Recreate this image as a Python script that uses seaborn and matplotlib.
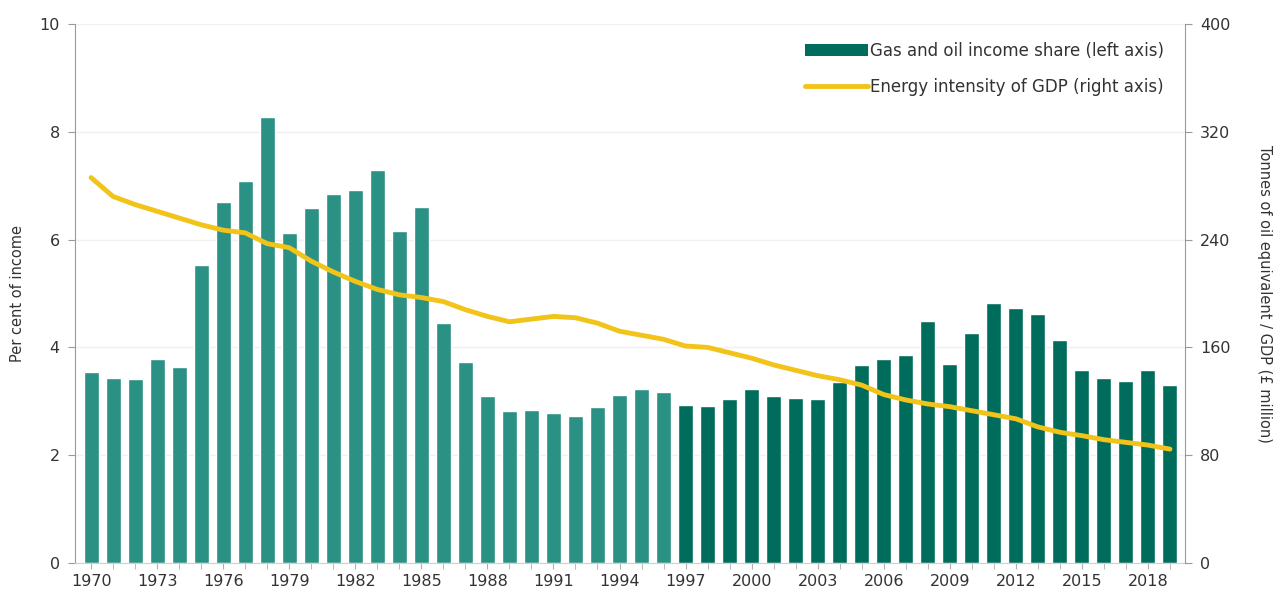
import numpy as np
import pandas as pd
import seaborn as sns
import matplotlib.pyplot as plt
from matplotlib.patches import Patch
from matplotlib.lines import Line2D

# Data
years = list(range(1970, 2020))
income_share = [3.55, 3.43, 3.41, 3.78, 3.64, 5.52, 6.70, 7.09, 8.28, 6.13,
                6.59, 6.84, 6.92, 7.30, 6.16, 6.60, 4.45, 3.73, 3.09, 2.82,
                2.83, 2.79, 2.73, 2.89, 3.12, 3.22, 3.18, 2.94, 2.92, 3.04,
                3.22, 3.10, 3.07, 3.04, 3.35, 3.67, 3.78, 3.86, 4.49, 3.69,
                4.27, 4.82, 4.73, 4.62, 4.14, 3.58, 3.44, 3.38, 3.58, 3.30]
energy_intensity = [286, 272, 266, 261, 256, 251, 247, 245, 237, 234,
                    224, 216, 209, 203, 199, 197, 194, 188, 183, 179,
                    181, 183, 182, 178, 172, 169, 166, 161, 160, 156,
                    152, 147, 143, 139, 136, 132, 125, 121, 118, 116,
                    113, 110, 107, 101, 97, 94.5, 91.5, 89.5, 87.5, 84.5]
period = ['early' if y < 1997 else 'late' for y in years]

df = pd.DataFrame({'year': years, 'share': income_share,
                   'intensity': energy_intensity, 'period': period})

light_teal = '#2b9184'
dark_teal = '#006c5b'
yellow = '#f2c318'
grey = '#9a9a9a'

sns.set_style('white')
plt.rcParams['font.family'] = ['DejaVu Sans']

fig = plt.figure(figsize=(12.82, 6), dpi=100)
ax = fig.add_axes([0.0585, 0.0617, 0.8658, 0.8983])

sns.barplot(data=df, x='year', y='share', hue='period', native_scale=True,
            palette={'early': light_teal, 'late': dark_teal}, dodge=False,
            width=0.68, legend=False, ax=ax, saturation=1)
ax.set_xlim(1969.27, 2019.68)
ax.set_ylim(0, 10)
ax.set_yticks([0, 2, 4, 6, 8, 10])
ax.set_xticks(years[::3])
ax.set_xticks(years, minor=True)
ax.set_xticklabels([str(y) for y in years[::3]])
ax.grid(axis='y', color='#f0f0f0', linewidth=1)
ax.set_axisbelow(True)
ax.set_xlabel('')
ax.set_ylabel('Per cent of income', fontsize=10.5, color='#333333', labelpad=10)

for s in ['top', 'right']:
    ax.spines[s].set_visible(False)
ax.spines['left'].set_color(grey)
ax.spines['bottom'].set_color('#d0d0d0')
ax.tick_params(axis='y', left=True, length=5, color=grey, labelsize=11.5,
               labelcolor='#333333', pad=6)
ax.tick_params(axis='x', which='both', bottom=True, length=4, color='#b0b0b0',
               labelsize=11.5, labelcolor='#333333', pad=4)

ax2 = ax.twinx()
sns.lineplot(data=df, x='year', y='intensity', color=yellow, linewidth=3.5,
             ax=ax2)
ax2.set_ylim(0, 400)
ax2.set_yticks([0, 80, 160, 240, 320, 400])
ax2.set_xlim(1969.27, 2019.68)
ax2.set_xlabel('')
ax2.set_ylabel('Tonnes of oil equivalent / GDP (£ million)', fontsize=10.5,
               color='#333333', rotation=270, labelpad=30)
for s in ['top', 'left', 'bottom']:
    ax2.spines[s].set_visible(False)
ax2.spines['right'].set_color(grey)
ax2.tick_params(axis='y', right=True, length=5, color=grey, labelsize=11.5,
                labelcolor='#333333', pad=6)

handles = [Patch(facecolor=dark_teal, edgecolor='none'),
           Line2D([0], [0], color=yellow, linewidth=3.5)]
labels = ['Gas and oil income share (left axis)',
          'Energy intensity of GDP (right axis)']
ax2.legend(handles, labels, loc='upper right', bbox_to_anchor=(0.995, 0.995),
           frameon=False, fontsize=12, handlelength=3.8, handleheight=0.7,
           handletextpad=0.15, labelspacing=1.1, labelcolor='#333333')

fig.savefig('out.png', dpi=100)
